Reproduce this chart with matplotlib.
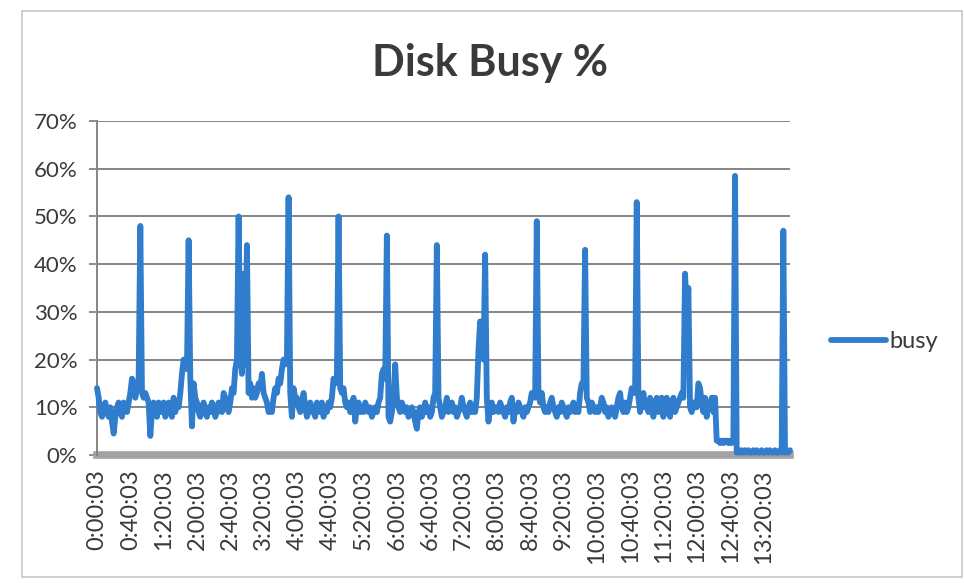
import matplotlib
matplotlib.use("Agg")
import matplotlib.pyplot as plt
import pandas as pd
from matplotlib.patches import Rectangle

plt.rcParams['font.family'] = ['Lato', 'DejaVu Sans']

# busy % sampled every 2 minutes starting 0:00:03 (one row per hour)
busy = [
    14, 12, 9, 8, 10, 11, 9, 8, 10, 7, 4.5, 8, 10, 11, 9, 8, 11, 10, 9, 11, 13, 16, 15, 12, 14, 16, 48, 13, 12, 13,
    12, 11, 4, 9, 11, 10, 8, 11, 9, 10, 11, 8, 9, 11, 10, 8, 12, 9, 11, 10, 13, 17, 20, 19, 18, 45, 16, 6, 15, 12,
    11, 9, 8, 10, 11, 9, 8, 10, 9, 11, 10, 8, 9, 11, 10, 9, 13, 12, 10, 9, 11, 14, 13, 18, 20, 50, 22, 17, 38, 19,
    44, 13, 15, 12, 14, 12, 13, 15, 14, 17, 13, 12, 11, 9, 10, 9, 12, 14, 13, 16, 15, 18, 20, 19, 20, 54, 13, 8, 14, 12,
    12, 10, 9, 11, 13, 10, 8, 9, 11, 10, 9, 8, 11, 10, 9, 11, 8, 10, 9, 11, 10, 12, 16, 15, 16, 50, 14, 13, 14, 11,
    10, 11, 9, 10, 12, 7, 10, 11, 9, 10, 9, 11, 10, 9, 10, 8, 9, 10, 9, 11, 12, 17, 18, 16, 46, 8, 7, 9, 12, 19,
    12, 10, 9, 11, 10, 9, 10, 8, 9, 10, 9, 7, 5.5, 9, 10, 8, 9, 11, 9, 10, 8, 9, 12, 13, 44, 12, 10, 8, 9, 10,
    12, 9, 10, 11, 9, 10, 8, 9, 10, 12, 10, 9, 8, 10, 11, 9, 10, 9, 12, 22, 28, 27, 20, 42, 12, 7, 10, 11, 9, 10,
    10, 9, 11, 10, 9, 8, 10, 9, 11, 12, 7, 10, 9, 11, 10, 9, 8, 10, 9, 10, 11, 13, 13, 12, 49, 13, 11, 13, 10, 9,
    10, 9, 11, 12, 10, 9, 8, 10, 9, 11, 10, 9, 8, 10, 9, 10, 11, 9, 10, 9, 13, 15, 15, 43, 12, 11, 9, 11, 10, 9,
    10, 9, 10, 12, 11, 9, 10, 8, 9, 10, 9, 8, 10, 12, 13, 10, 9, 11, 9, 10, 12, 14, 14, 13, 53, 12, 9, 11, 13, 10,
    11, 9, 12, 10, 8, 11, 12, 9, 10, 12, 8, 11, 12, 10, 8, 11, 12, 9, 10, 11, 12, 13, 12, 38, 30, 35, 10, 9, 11, 10,
    10, 15, 14, 11, 9, 12, 8, 11, 10, 12, 9, 12, 3, 3, 2.5, 3, 2.5, 3, 3, 2.5, 3, 2.5, 3, 58.5, 0.5, 1, 0.5, 1, 0.5, 1,
    0.5, 1, 0.5, 0.5, 1, 0.5, 1, 0.5, 0.5, 1, 0.5, 0.5, 1, 0.5, 1, 0.5, 0.5, 1, 0.5, 0.5, 1, 0.5, 47, 0.5, 1, 0.5, 1,
]
start_time = "2000-01-01 00:00:03"
interval = "2min"
label_step = 20  # one label every 40 minutes
y_ticks = [0, 10, 20, 30, 40, 50, 60, 70]
title = "Disk Busy %"
series_name = "busy"

times = pd.date_range(start_time, periods=len(busy), freq=interval)
values = [v / 100 for v in busy]

W, H = 964, 583
fig = plt.figure(figsize=(W / 100, H / 100), dpi=100)
L, R, T, B = 97, 790, 121, 455
ax = fig.add_axes([L / W, 1 - B / H, (R - L) / W, (B - T) / H])

line_color = '#2F7DCC'
grid_color = '#858585'
text_color = '#3A3A3A'

ax.plot(times, values, color=line_color, lw=4.2, solid_joinstyle='round',
        solid_capstyle='round', label=series_name, zorder=3, clip_on=False)

ax.set_xlim(times[0], times[-1])
ax.set_ylim(0, 0.70)
ax.set_yticks([t / 100 for t in y_ticks])
ax.set_yticklabels([f"{t}%" for t in y_ticks], fontsize=16, color=text_color)
ax.yaxis.grid(True, color=grid_color, lw=1.4)
ax.set_axisbelow(True)

tick_times = times[::label_step]
ax.set_xticks(tick_times)
ax.set_xticklabels([f"{t.hour}:{t.minute:02d}:{t.second:02d}" for t in tick_times],
                   rotation=90, fontsize=17, color=text_color)
ax.tick_params(axis='x', length=0, pad=10)
ax.tick_params(axis='y', length=6, width=1.3, color=grid_color, pad=8)

for s in ['top', 'right']:
    ax.spines[s].set_visible(False)
ax.spines['left'].set_color(grid_color)
ax.spines['left'].set_linewidth(1.4)
ax.spines['bottom'].set_color('#A3A3A3')
ax.spines['bottom'].set_linewidth(5.5)
ax.spines['bottom'].set_zorder(2)

fig.text(490 / W, 1 - 63 / H, title, ha='center', va='center',
         fontsize=31, fontweight='bold', color=text_color)

leg = fig.legend(loc='center left', bbox_to_anchor=(822 / W, 1 - 342 / H),
                 frameon=False, fontsize=17, handlelength=2.3, handletextpad=0.15,
                 borderaxespad=0)
for t in leg.get_texts():
    t.set_color(text_color)

fig.patches.append(Rectangle((22 / W, 6 / H), 940 / W, 566 / H, transform=fig.transFigure,
                             fill=False, edgecolor='#C8C8C8', lw=1.2))

fig.savefig("out.png", dpi=100)
